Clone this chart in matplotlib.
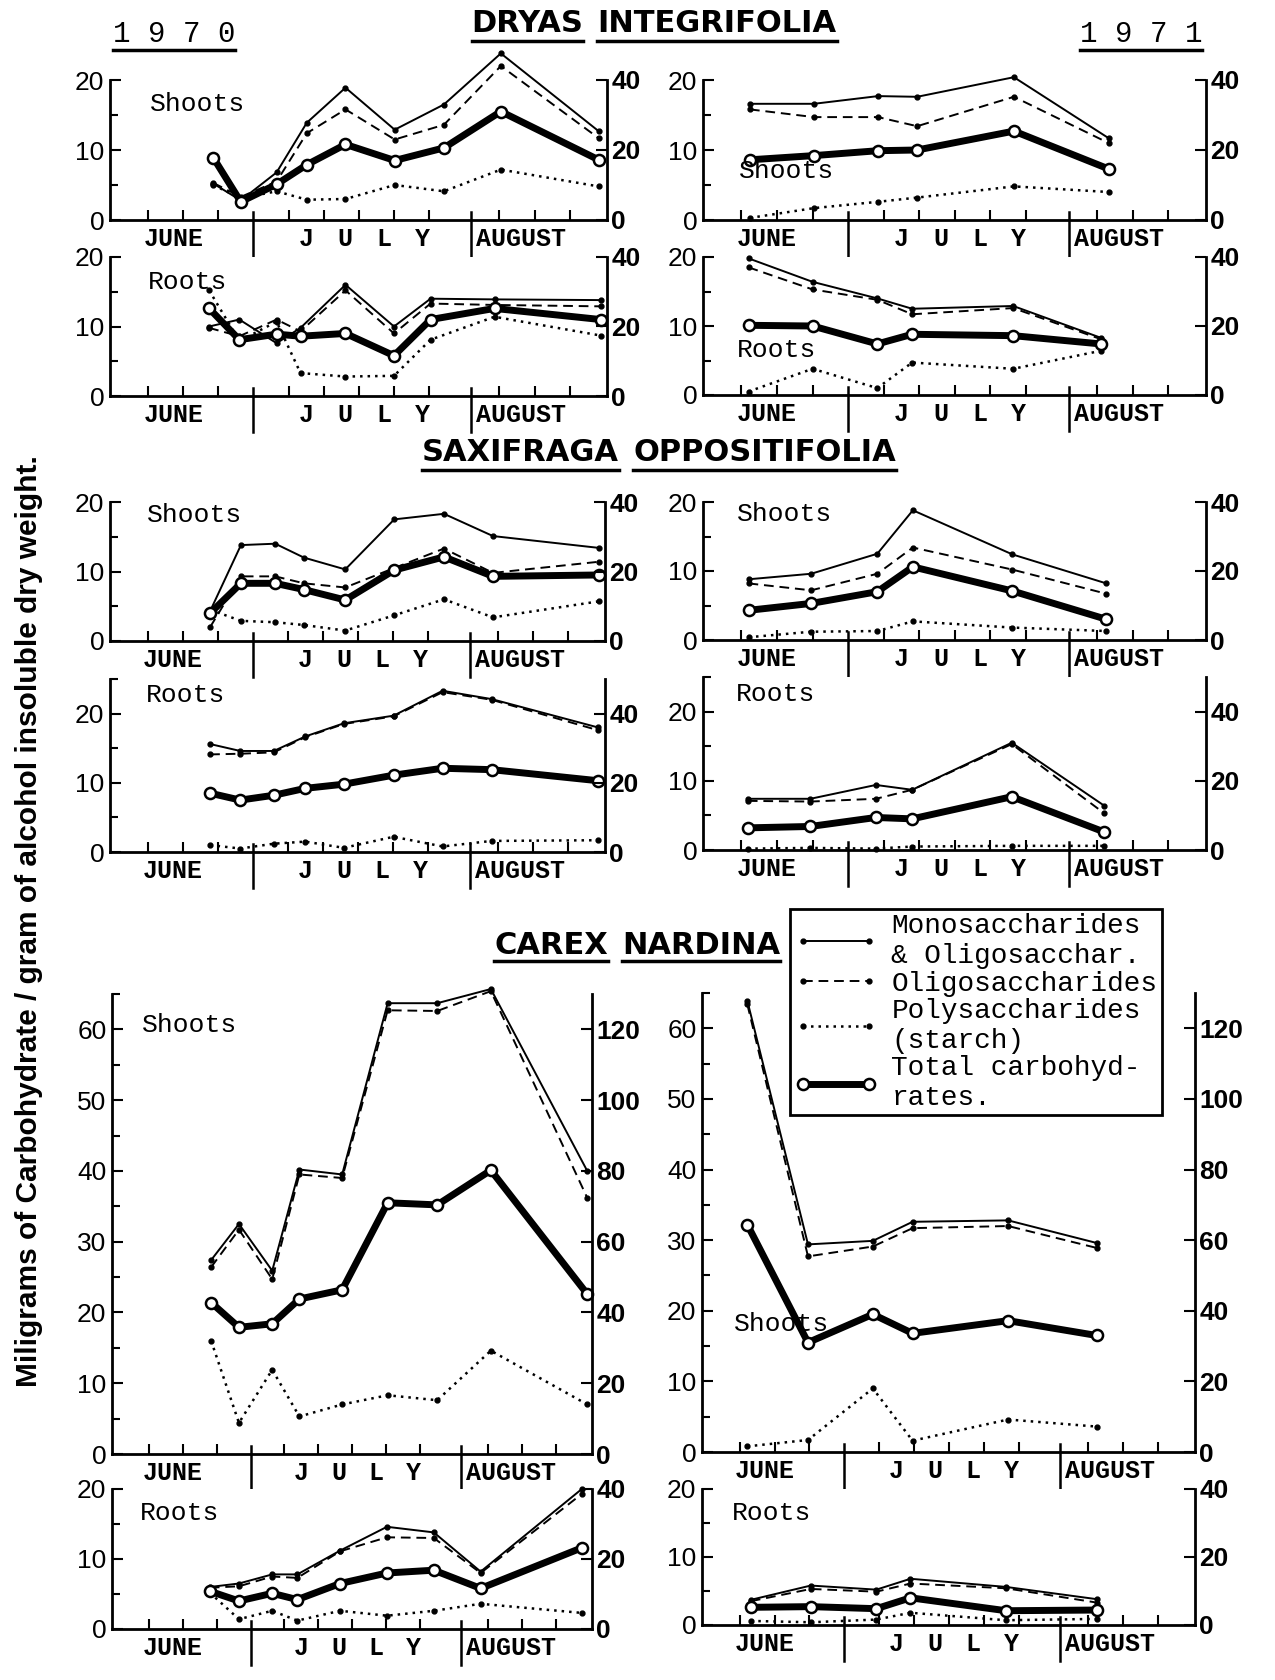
import numpy as np
import matplotlib
matplotlib.use("Agg")
import matplotlib.pyplot as plt
from matplotlib.lines import Line2D

W, H = 1275, 1680
X0, X1 = 9.6, 80.3          # days after May 31 (July 1 = 30, Aug 1 = 61)
JULY1, AUG1 = 30, 61

MONO = "Liberation Mono"
SANS = "Liberation Sans"

# ---- Dryas integrifolia 1970 ----
dry70_sh_days = [24.3, 28.2, 33.3, 37.6, 43.1, 50.1, 57.1, 65.2, 79.1]
dry70_sh_mono = [5.2, 2.8, 6.8, 13.9, 18.9, 12.9, 16.5, 23.8, 12.7]
dry70_sh_olig = [5.3, 3.3, 5.5, 12.4, 15.8, 11.5, 13.6, 22.0, 11.7]
dry70_sh_poly = [5.0, 3.1, 4.1, 2.9, 3.0, 5.0, 4.1, 7.2, 4.8]
dry70_sh_tot = [8.9, 2.6, 5.1, 7.9, 10.8, 8.5, 10.3, 15.5, 8.6]

dry70_rt_days = [23.7, 28.0, 33.3, 36.7, 43.1, 50.0, 55.2, 64.3, 79.4]
dry70_rt_mono = [10.0, 11.0, 7.6, 9.8, 16.0, 10.0, 14.0, 13.9, 13.8]
dry70_rt_olig = [9.8, 8.6, 11.0, 9.3, 15.2, 9.0, 13.3, 13.1, 12.9]
dry70_rt_poly = [15.2, 7.9, 10.7, 3.3, 2.8, 2.9, 8.1, 11.4, 8.7]
dry70_rt_tot = [12.6, 8.1, 8.9, 8.6, 9.0, 5.8, 11.0, 12.6, 11.0]

# ---- Dryas integrifolia 1971 ----
dry71_sh_days = [16.2, 25.2, 34.2, 39.7, 53.3, 66.6]
dry71_sh_mono = [16.6, 16.6, 17.7, 17.6, 20.4, 11.7]
dry71_sh_olig = [15.8, 14.7, 14.7, 13.4, 17.6, 11.0]
dry71_sh_poly = [0.3, 1.7, 2.6, 3.2, 4.8, 4.0]
dry71_sh_tot = [8.6, 9.2, 9.9, 10.0, 12.7, 7.3]

dry71_rt_days = [16.0, 25.0, 34.1, 39.0, 53.2, 65.5]
dry71_rt_mono = [19.8, 16.4, 14.0, 12.5, 12.9, 8.3]
dry71_rt_olig = [18.5, 15.3, 13.8, 11.7, 12.6, 8.1]
dry71_rt_poly = [0.5, 3.8, 1.0, 4.7, 3.8, 6.4]
dry71_rt_tot = [10.1, 10.0, 7.4, 8.8, 8.6, 7.4]

# ---- Saxifraga oppositifolia 1970 ----
sax70_sh_days = [23.9, 28.3, 33.2, 37.3, 43.2, 50.2, 57.3, 64.3, 79.4]
sax70_sh_mono = [4.3, 13.8, 14.0, 12.0, 10.3, 17.5, 18.3, 15.1, 13.4]
sax70_sh_olig = [2.0, 9.3, 9.3, 8.3, 7.7, 10.5, 13.3, 9.8, 11.4]
sax70_sh_poly = [4.5, 2.9, 2.7, 2.3, 1.5, 3.7, 6.0, 3.4, 5.7]
sax70_sh_tot = [4.0, 8.3, 8.3, 7.4, 5.9, 10.2, 12.1, 9.3, 9.5]

sax70_rt_days = [23.9, 28.2, 33.0, 37.5, 43.0, 50.1, 57.1, 64.1, 79.3]
sax70_rt_mono = [15.6, 14.6, 14.6, 16.7, 18.6, 19.7, 23.3, 22.1, 18.0]
sax70_rt_olig = [14.1, 14.2, 14.4, 16.6, 18.5, 19.6, 23.1, 22.0, 17.6]
sax70_rt_poly = [1.0, 0.5, 1.2, 1.5, 0.6, 2.2, 0.8, 1.6, 1.7]
sax70_rt_tot = [8.5, 7.5, 8.2, 9.2, 9.8, 11.1, 12.1, 11.9, 10.3]

# ---- Saxifraga oppositifolia 1971 ----
sax71_sh_days = [16.0, 24.8, 34.1, 39.1, 53.1, 66.3]
sax71_sh_mono = [8.8, 9.6, 12.5, 18.8, 12.4, 8.2]
sax71_sh_olig = [8.2, 7.2, 9.6, 13.4, 10.2, 6.7]
sax71_sh_poly = [0.4, 1.2, 1.3, 2.7, 1.8, 1.3]
sax71_sh_tot = [4.3, 5.3, 7.0, 10.6, 7.1, 3.0]

sax71_rt_days = [15.9, 24.7, 33.9, 39.0, 53.0, 66.0]
sax71_rt_mono = [7.4, 7.4, 9.4, 8.7, 15.5, 6.4]
sax71_rt_olig = [7.1, 7.0, 7.4, 8.7, 15.3, 5.3]
sax71_rt_poly = [0.2, 0.3, 0.2, 0.5, 0.6, 0.6]
sax71_rt_tot = [3.2, 3.4, 4.7, 4.5, 7.7, 2.6]

# ---- Carex nardina 1970 ----
car70_sh_days = [24.2, 28.3, 33.2, 37.2, 43.5, 50.2, 57.5, 65.4, 79.6]
car70_sh_mono = [27.4, 32.5, 25.9, 40.2, 39.5, 63.7, 63.7, 65.7, 40.0]
car70_sh_olig = [26.4, 31.7, 24.7, 39.5, 39.0, 62.7, 62.6, 65.4, 36.2]
car70_sh_poly = [16.0, 4.4, 11.9, 5.3, 7.0, 8.3, 7.6, 14.6, 7.0]
car70_sh_tot = [21.4, 17.9, 18.4, 21.9, 23.2, 35.5, 35.2, 40.1, 22.6]

car70_rt_days = [24.0, 28.3, 33.2, 36.9, 43.2, 50.1, 57.0, 63.9, 78.8]
car70_rt_mono = [6.0, 6.5, 7.8, 7.8, 11.2, 14.6, 13.8, 8.2, 20.0]
car70_rt_olig = [5.9, 6.1, 7.5, 7.3, 11.1, 13.1, 13.0, 8.0, 19.3]
car70_rt_poly = [5.2, 1.4, 2.6, 1.2, 2.6, 1.9, 2.6, 3.6, 2.3]
car70_rt_tot = [5.4, 4.0, 5.1, 4.2, 6.5, 8.0, 8.4, 5.8, 11.6]

# ---- Carex nardina 1971 ----
car71_sh_days = [16.1, 24.8, 34.1, 39.8, 53.5, 66.2]
car71_sh_mono = [63.9, 29.4, 29.9, 32.6, 32.8, 29.6]
car71_sh_olig = [63.4, 27.7, 29.1, 31.7, 32.0, 28.9]
car71_sh_poly = [0.8, 1.7, 9.0, 1.6, 4.6, 3.6]
car71_sh_tot = [32.2, 15.5, 19.5, 16.8, 18.6, 16.5]

car71_rt_days = [16.6, 25.2, 34.6, 39.5, 53.2, 66.2]
car71_rt_mono = [3.7, 5.8, 5.2, 6.8, 5.6, 3.8]
car71_rt_olig = [3.5, 5.3, 4.9, 6.1, 5.4, 3.3]
car71_rt_poly = [0.6, 0.4, 0.8, 1.8, 0.7, 0.9]
car71_rt_tot = [2.6, 2.7, 2.4, 4.0, 2.1, 2.2]

legend_labels = ["Monosaccharides\n& Oligosacchar.", "Oligosaccharides",
                 "Polysaccharides\n(starch)", "Total carbohyd-\nrates."]

fig = plt.figure(figsize=(W / 100, H / 100), dpi=100)
fig.patch.set_facecolor("white")


def panel(box, ytop, yticks, rtop, rticks, days, mono, olig, poly, tot, label, label_xy):
    left, right, top, bottom = box
    hpx = bottom - top
    ax = fig.add_axes([left / W, 1 - bottom / H, (right - left) / W, hpx / H])
    ax.set_xlim(X0, X1)
    ax.set_ylim(0, ytop)
    for s in ["top", "right"]:
        ax.spines[s].set_visible(False)
    for s in ["left", "bottom"]:
        ax.spines[s].set_linewidth(2)
    ax.set_yticks(yticks)
    ax.set_yticks(np.arange(5, ytop + 0.1, 5), minor=True)
    ax.set_xticks([15, 20, 25, 35, 40, 45, 50, 55, 65, 70, 75])
    ax.set_xticklabels([])
    ax.tick_params(axis="both", which="both", direction="in", width=1.5)
    ax.tick_params(axis="y", which="major", length=8, pad=4, labelsize=19)
    ax.tick_params(axis="y", which="minor", length=6)
    ax.tick_params(axis="x", length=7)
    for t in ax.get_yticklabels():
        t.set_family(SANS)

    ax2 = ax.twinx()
    ax2.set_ylim(0, rtop)
    ax2.set_yticks(rticks)
    for s in ["top", "left", "bottom"]:
        ax2.spines[s].set_visible(False)
    ax2.spines["right"].set_linewidth(2)
    ax2.tick_params(axis="y", direction="in", length=8, width=1.5, pad=3, labelsize=19)
    for t in ax2.get_yticklabels():
        t.set_family(SANS)
        t.set_fontweight("bold")

    # month separators and names
    du = ytop / hpx
    for d in (JULY1, AUG1):
        ax.plot([d, d], [8 * du, -36 * du], color="k", lw=1.8, clip_on=False)
    ax.text(18.6, -19 * du, "JUNE", ha="center", va="center", fontsize=18,
            family=MONO, fontweight="bold")
    for d, ch in zip([37.5, 43.0, 48.5, 54.0], "JULY"):
        ax.text(d, -19 * du, ch, ha="center", va="center", fontsize=18,
                family=MONO, fontweight="bold")
    ax.text(AUG1 + 0.7, -19 * du, "AUGUST", ha="left", va="center", fontsize=18,
            family=MONO, fontweight="bold")

    ax.plot(days, mono, "-", color="k", lw=1.4, marker="o", ms=3.5, clip_on=False)
    ax.plot(days, olig, color="k", lw=1.4, ls=(0, (5, 3)), marker="o", ms=3.5, clip_on=False)
    ax.plot(days, poly, color="k", lw=1.8, ls=(0, (1, 2)), marker="o", ms=3.5, clip_on=False)
    ax.plot(days, tot, "-", color="k", lw=5, marker="o", ms=8, mfc="white", mec="k",
            mew=1.8, clip_on=False, zorder=5)

    fig.text(label_xy[0] / W, 1 - label_xy[1] / H, label, fontsize=19, family=MONO,
             ha="left", va="center")
    return ax


L70 = (110, 607)
L71 = (703, 1206)
t20 = [0, 10, 20]
r40 = [0, 20, 40]

panel((*L70, 80, 220), 20, t20, 40, r40, dry70_sh_days, dry70_sh_mono, dry70_sh_olig,
      dry70_sh_poly, dry70_sh_tot, "Shoots", (150, 104))
panel((*L70, 257, 396), 20, t20, 40, r40, dry70_rt_days, dry70_rt_mono, dry70_rt_olig,
      dry70_rt_poly, dry70_rt_tot, "Roots", (148, 282))
panel((*L71, 80, 220), 20, t20, 40, r40, dry71_sh_days, dry71_sh_mono, dry71_sh_olig,
      dry71_sh_poly, dry71_sh_tot, "Shoots", (739, 171))
panel((*L71, 257, 395), 20, t20, 40, r40, dry71_rt_days, dry71_rt_mono, dry71_rt_olig,
      dry71_rt_poly, dry71_rt_tot, "Roots", (737, 350))

panel((110, 605, 502, 641), 20, t20, 40, r40, sax70_sh_days, sax70_sh_mono, sax70_sh_olig,
      sax70_sh_poly, sax70_sh_tot, "Shoots", (147, 515))
panel((110, 605, 679, 852), 25, t20, 50, r40, sax70_rt_days, sax70_rt_mono, sax70_rt_olig,
      sax70_rt_poly, sax70_rt_tot, "Roots", (146, 695))
panel((*L71, 502, 640), 20, t20, 40, r40, sax71_sh_days, sax71_sh_mono, sax71_sh_olig,
      sax71_sh_poly, sax71_sh_tot, "Shoots", (737, 514))
panel((*L71, 677, 850), 25, t20, 50, r40, sax71_rt_days, sax71_rt_mono, sax71_rt_olig,
      sax71_rt_poly, sax71_rt_tot, "Roots", (736, 694))

c60 = [0, 10, 20, 30, 40, 50, 60]
c120 = [0, 20, 40, 60, 80, 100, 120]
panel((112, 592, 994, 1454), 65, c60, 130, c120, car70_sh_days, car70_sh_mono, car70_sh_olig,
      car70_sh_poly, car70_sh_tot, "Shoots", (142, 1025))
panel((112, 592, 1489, 1629), 20, t20, 40, r40, car70_rt_days, car70_rt_mono, car70_rt_olig,
      car70_rt_poly, car70_rt_tot, "Roots", (140, 1513))
panel((702, 1195, 993, 1452), 65, c60, 130, c120, car71_sh_days, car71_sh_mono, car71_sh_olig,
      car71_sh_poly, car71_sh_tot, "Shoots", (734, 1324))
panel((702, 1195, 1489, 1625), 20, t20, 40, r40, car71_rt_days, car71_rt_mono, car71_rt_olig,
      car71_rt_poly, car71_rt_tot, "Roots", (732, 1513))

# titles with underlined words
renderer = fig.canvas.get_renderer()


def underlined(xc, y, words, size, family, weight, gap=14):
    texts = [fig.text(0, 1 - y / H, w, fontsize=size, family=family, fontweight=weight,
                      ha="left", va="center") for w in words]
    widths = [t.get_window_extent(renderer).width for t in texts]
    hts = [t.get_window_extent(renderer).height for t in texts]
    x = xc - (sum(widths) + gap * (len(words) - 1)) / 2
    for t, w, h in zip(texts, widths, hts):
        t.set_x(x / W)
        yl = 1 - (y + h / 2 + 2) / H
        fig.add_artist(Line2D([x / W, (x + w) / W], [yl, yl], color="k", lw=2.5))
        x += w + gap


TFAM = "DejaVu Sans"
underlined(654, 24, ["DRYAS", "INTEGRIFOLIA"], 22, TFAM, "bold")
underlined(659, 453, ["SAXIFRAGA", "OPPOSITIFOLIA"], 22, TFAM, "bold")
underlined(637, 945, ["CAREX", "NARDINA"], 22, TFAM, "bold")
underlined(174, 34, ["1 9 7 0"], 21, MONO, "normal")
underlined(1141, 34, ["1 9 7 1"], 21, MONO, "normal")

fig.text(29 / W, 1 - 921 / H,
         "Miligrams of Carbohydrate / gram of alcohol insoluble dry weight.",
         rotation=90, fontsize=21.5, family=SANS, fontweight="bold",
         ha="center", va="center")

handles = [
    Line2D([], [], color="k", lw=1.4, marker="o", ms=3.5),
    Line2D([], [], color="k", lw=1.4, ls=(0, (5, 3)), marker="o", ms=3.5),
    Line2D([], [], color="k", lw=1.8, ls=(0, (1, 2)), marker="o", ms=3.5),
    Line2D([], [], color="k", lw=5, marker="o", ms=8, mfc="white", mec="k", mew=1.8),
]
leg = fig.legend(handles, legend_labels, loc="upper left",
                 bbox_to_anchor=(790 / W, 1 - 909 / H), frameon=True, fancybox=False,
                 edgecolor="k", framealpha=1, prop={"family": MONO, "size": 20},
                 handlelength=3.0, handletextpad=0.5, labelspacing=0.05,
                 borderpad=0.15, borderaxespad=0, numpoints=2)
leg.get_frame().set_linewidth(2)

fig.savefig("out.png", dpi=100)
